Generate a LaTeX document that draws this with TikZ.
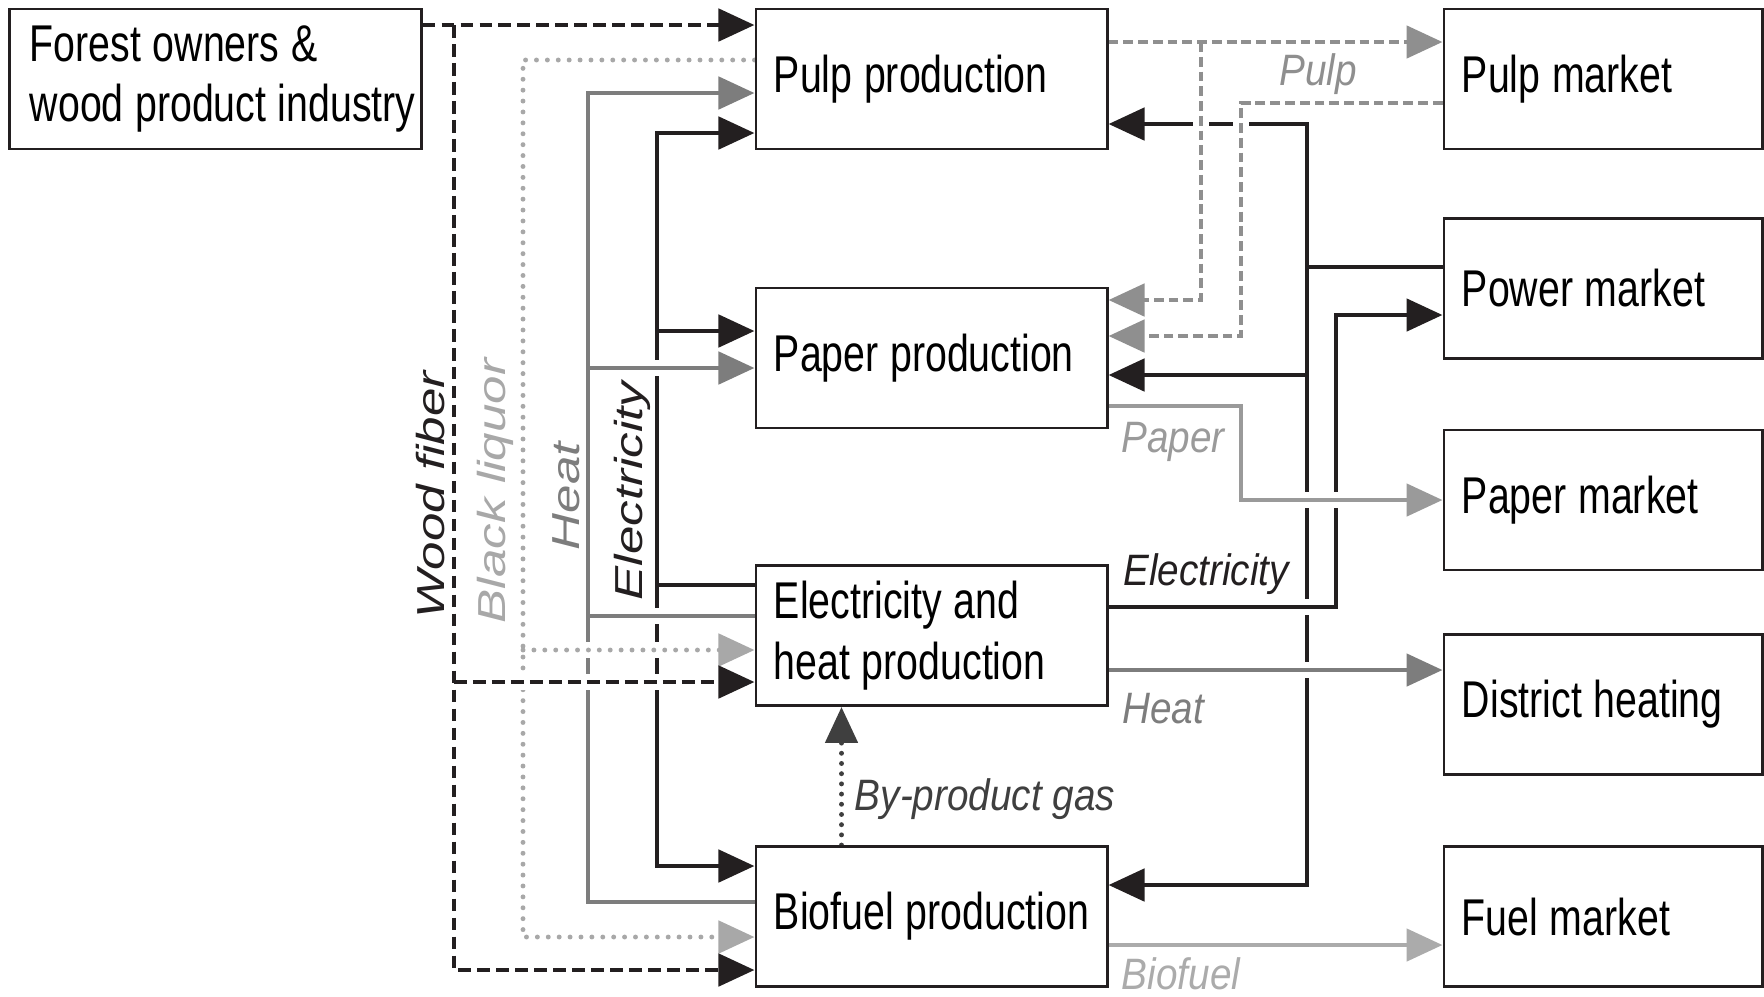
\documentclass[tikz,border=0pt]{standalone}
\usepackage{fontspec}
\setmainfont{Liberation Sans}[FakeStretch=0.76]
\newfontfamily\labfont{Liberation Sans}[FakeStretch=0.88]
\newfontfamily\rotfont{Liberation Sans}[FakeStretch=1.31]
\usetikzlibrary{arrows.meta,backgrounds}

\definecolor{ink}{HTML}{231F20}
\definecolor{heatgray}{HTML}{7D7D7D}
\definecolor{pulpgray}{HTML}{8F8F8F}
\definecolor{papergray}{HTML}{9A9A9A}
\definecolor{fuelgray}{HTML}{ABABAB}
\definecolor{liquorgray}{HTML}{A8A8A8}
\definecolor{gasgray}{HTML}{3F3F3F}

\begin{document}
\begin{tikzpicture}[x=0.01cm,y=-0.01cm,
  font=\fontsize{14.7pt}{17.3pt}\selectfont,
  box/.style={draw=ink,line width=0.8pt,minimum height=1.4cm,inner xsep=0.18cm,inner ysep=0pt,align=left,
    execute at begin node={\spaceskip=3.3pt plus 1pt minus 1pt\relax}},
  lab/.style={font=\labfont\fontsize{12.5pt}{15pt}\selectfont\itshape,inner sep=0pt},
  rotlab/.style={font=\rotfont\fontsize{11.1pt}{13pt}\selectfont\itshape,inner sep=0pt,rotate=90},
  arr/.style={-{Triangle[length=0.36cm,width=0.32cm]}},
  bridge/.style={preaction={draw=white,line width=4.5pt,solid,line cap=butt,-}},
  elec/.style={line width=1.4pt,draw=ink},
  heat/.style={line width=1.4pt,draw=heatgray},
  wood/.style={line width=1.4pt,draw=ink,dash pattern=on 3.6pt off 1.8pt},
  liquor/.style={line width=1.4pt,draw=liquorgray,line cap=round,dash pattern=on 0pt off 3.1pt},
  pulpflow/.style={line width=1.4pt,draw=pulpgray,dash pattern=on 2.8pt off 1.4pt},
  paperflow/.style={line width=1.4pt,draw=papergray},
  fuelflow/.style={line width=1.4pt,draw=fuelgray},
  gas/.style={line width=1.4pt,draw=gasgray,line cap=round,dash pattern=on 0pt off 2.9pt}]
  \useasboundingbox (0,0) rectangle (1764,996);

  % mills in the middle
  \node[box,text width=3.71cm,inner xsep=0.2cm] (forest) at (215.5,79) {\mbox{Forest owners \&}\\\mbox{wood product industry}};
  \node[box,text width=3.15cm] (pulp) at (931.5,79) {\mbox{Pulp production}};
  \node[box,text width=3.15cm] (paper) at (931.5,358) {\mbox{Paper production}};
  \node[box,text width=3.15cm] (elheat) at (931.5,635.5) {Electricity and\\heat production};
  \node[box,text width=3.15cm] (biofuel) at (931.5,916.5) {\mbox{Biofuel production}};

  % markets on the right
  \node[box,text width=2.82cm] (pulpmkt) at (1603,79) {Pulp market};
  \node[box,text width=2.82cm] (powermkt) at (1603,288.5) {Power market};
  \node[box,text width=2.82cm] (papermkt) at (1603,500) {Paper market};
  \node[box,text width=2.82cm] (district) at (1603,704.5) {\mbox{District heating}};
  \node[box,text width=2.82cm] (fuelmkt) at (1603,916.5) {Fuel market};

  \begin{scope}[on background layer]
    % electricity to the mills (left)
    \draw[elec,arr] (elheat.west |- 0,585) -| (657,133) -- (pulp.west |- 0,133);
    \draw[elec,arr] (657,331) -- (paper.west |- 0,331);
    \draw[elec,arr] (657,585) |- (biofuel.west |- 0,866);
    % heat to the mills
    \draw[heat,bridge] (elheat.west |- 0,616) -- (588,616);
    \draw[heat,bridge,arr] (588,368) -- (paper.west |- 0,368);
    \draw[heat,arr] (biofuel.west |- 0,902) -| (588,93) -- (pulp.west |- 0,93);
    % black liquor
    \draw[liquor,bridge,arr] (523,650) -- (elheat.west |- 0,650);
    \draw[liquor,arr] (pulp.west |- 0,60) -| (523,937) -- (biofuel.west |- 0,937);
    % wood fiber
    \draw[wood,bridge,arr] (454,682) -- (elheat.west |- 0,682);
    \draw[wood,arr] (454,25) |- (biofuel.west |- 0,970);
    \draw[wood,arr] (forest.east |- 0,25) -- (pulp.west |- 0,25);

    % electricity from the power market (right)
    \draw[elec,arr] (powermkt.west |- 0,267) -| (1307,124) -- (pulp.east |- 0,124);
    \draw[elec,arr] (1307,267) |- (biofuel.east |- 0,885);
    \draw[elec,arr] (1307,375) -- (paper.east |- 0,375);
    \draw[elec,bridge,arr] (elheat.east |- 0,607) -| (1336,315) -- (powermkt.west |- 0,315);
    % products to the markets
    \draw[heat,bridge,arr] (elheat.east |- 0,670) -- (district.west |- 0,670);
    \draw[paperflow,bridge,arr] (paper.east |- 0,406) -| (1241,500) -- (papermkt.west |- 0,500);
    \draw[fuelflow,arr] (biofuel.east |- 0,945) -- (fuelmkt.west |- 0,945);
    % pulp
    \draw[pulpflow,bridge,arr] (1201,42) |- (paper.east |- 0,300);
    \draw[pulpflow,bridge,arr] (pulpmkt.west |- 0,103) -| (1241,336) -- (paper.east |- 0,336);
    \draw[pulpflow,arr] (pulp.east |- 0,42) -- (pulpmkt.west |- 0,42);
    % by-product gas
    \draw[gas,arr] (biofuel.north -| 841.5,0) -- (elheat.south -| 841.5,0);
  \end{scope}

  % flow labels
  \node[rotlab,text=ink] (woodlab) at (431,495) {Wood fiber};
  \node[rotlab,text=liquorgray] (liquorlab) at (495,491) {Black liquor};
  \node[rotlab,text=heatgray] (heatlab) at (566,496) {Heat};
  \node[rotlab,text=ink] (eleclab) at (632,491) {Electricity};
  \node[lab,text=pulpgray] (pulplab) at (1318,74) {Pulp};
  \node[lab,text=papergray] (paperlab) at (1173,442) {Paper};
  \node[lab,text=ink] (powerlab) at (1206,574) {Electricity};
  \node[lab,text=heatgray] (dheatlab) at (1163,709) {Heat};
  \node[lab,text=fuelgray] (fuellab) at (1181,974) {Biofuel};
  \node[lab,text=gasgray] (gaslab) at (985,799) {By-product gas};
\end{tikzpicture}
\end{document}
